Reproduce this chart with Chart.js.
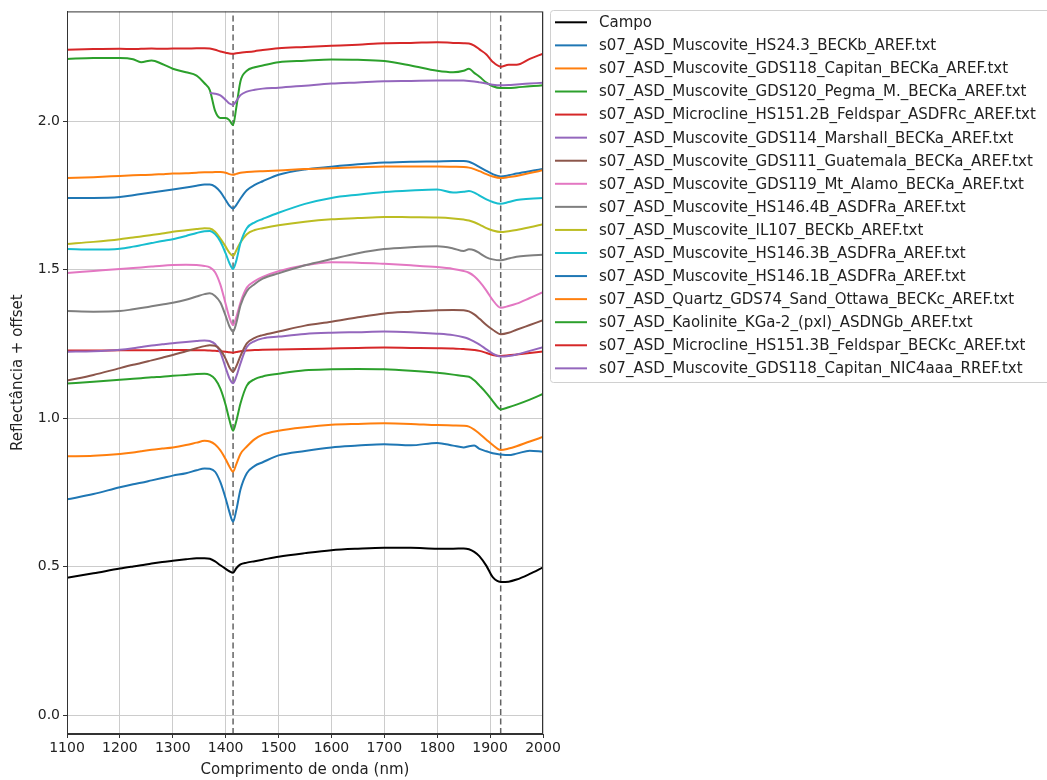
<!DOCTYPE html>
<html>
<head>
<meta charset="utf-8">
<script src="https://cdn.jsdelivr.net/npm/chart.js@4.4.1/dist/chart.umd.min.js"></script>
<style>
  html, body { margin: 0; padding: 0; background: #ffffff; }
  #wrap { width: 1047px; height: 780px; }
</style>
</head>
<body>
<div id="wrap"><canvas id="spectra" width="1047" height="780"></canvas></div>
<script>
// Wavelength grid (nm) shared by every spectrum
const wavelengthNm = [1100, 1150, 1200, 1225, 1240, 1260, 1280, 1300, 1325, 1345, 1360, 1370, 1380, 1390, 1400, 1407, 1414, 1420, 1428, 1440, 1455, 1470, 1500, 1550, 1600, 1650, 1700, 1750, 1800, 1830, 1850, 1860, 1870, 1880, 1893, 1905, 1920, 1935, 1950, 1975, 2000];

// Reflectance + offset for each spectrum
const campo = [0.463, 0.478, 0.494, 0.501, 0.505, 0.511, 0.516, 0.520, 0.525, 0.529, 0.529, 0.527, 0.518, 0.505, 0.493, 0.485, 0.480, 0.495, 0.508, 0.514, 0.519, 0.524, 0.534, 0.546, 0.556, 0.561, 0.564, 0.564, 0.561, 0.561, 0.562, 0.559, 0.550, 0.535, 0.503, 0.465, 0.449, 0.450, 0.457, 0.476, 0.498];
const muscHS243 = [0.727, 0.745, 0.768, 0.778, 0.783, 0.791, 0.799, 0.807, 0.815, 0.825, 0.831, 0.830, 0.820, 0.785, 0.730, 0.685, 0.652, 0.690, 0.760, 0.815, 0.840, 0.852, 0.875, 0.890, 0.902, 0.908, 0.913, 0.909, 0.917, 0.908, 0.902, 0.906, 0.908, 0.897, 0.889, 0.882, 0.878, 0.876, 0.881, 0.891, 0.887];
const muscGDS118 = [0.872, 0.874, 0.880, 0.885, 0.889, 0.894, 0.898, 0.902, 0.910, 0.918, 0.924, 0.922, 0.912, 0.892, 0.862, 0.838, 0.820, 0.845, 0.880, 0.905, 0.930, 0.945, 0.958, 0.970, 0.978, 0.981, 0.983, 0.981, 0.977, 0.976, 0.975, 0.972, 0.962, 0.948, 0.928, 0.910, 0.893, 0.898, 0.906, 0.922, 0.937];
const muscGDS120 = [1.117, 1.123, 1.130, 1.133, 1.135, 1.138, 1.140, 1.143, 1.146, 1.149, 1.150, 1.146, 1.132, 1.100, 1.045, 0.995, 0.958, 0.990, 1.050, 1.110, 1.132, 1.141, 1.150, 1.162, 1.165, 1.166, 1.165, 1.160, 1.153, 1.147, 1.142, 1.140, 1.128, 1.110, 1.085, 1.058, 1.030, 1.037, 1.046, 1.063, 1.082];
const microHS1512B = [1.228, 1.228, 1.229, 1.229, 1.229, 1.229, 1.230, 1.230, 1.230, 1.229, 1.229, 1.228, 1.227, 1.226, 1.224, 1.222, 1.221, 1.223, 1.226, 1.228, 1.230, 1.231, 1.232, 1.233, 1.235, 1.237, 1.238, 1.237, 1.236, 1.235, 1.233, 1.232, 1.230, 1.227, 1.220, 1.213, 1.210, 1.212, 1.215, 1.220, 1.225];
const muscGDS114 = [1.224, 1.226, 1.231, 1.236, 1.240, 1.245, 1.249, 1.253, 1.257, 1.260, 1.262, 1.260, 1.250, 1.222, 1.170, 1.135, 1.118, 1.140, 1.185, 1.240, 1.260, 1.269, 1.275, 1.284, 1.288, 1.290, 1.292, 1.290, 1.285, 1.280, 1.273, 1.267, 1.258, 1.248, 1.232, 1.218, 1.208, 1.210, 1.215, 1.227, 1.239];
const muscGDS111 = [1.127, 1.146, 1.169, 1.180, 1.186, 1.195, 1.204, 1.213, 1.226, 1.236, 1.243, 1.246, 1.244, 1.230, 1.200, 1.172, 1.157, 1.175, 1.210, 1.252, 1.271, 1.280, 1.292, 1.312, 1.325, 1.340, 1.353, 1.359, 1.364, 1.365, 1.364, 1.360, 1.350, 1.335, 1.314, 1.298, 1.283, 1.288, 1.298, 1.314, 1.330];
const muscGDS119 = [1.489, 1.496, 1.503, 1.506, 1.508, 1.511, 1.514, 1.516, 1.517, 1.516, 1.513, 1.508, 1.492, 1.450, 1.385, 1.340, 1.314, 1.340, 1.390, 1.440, 1.462, 1.476, 1.495, 1.515, 1.525, 1.524, 1.520, 1.515, 1.509, 1.503, 1.496, 1.490, 1.478, 1.460, 1.430, 1.398, 1.372, 1.378, 1.386, 1.405, 1.425];
const muscHS1464B = [1.361, 1.359, 1.361, 1.367, 1.371, 1.377, 1.383, 1.389, 1.399, 1.410, 1.418, 1.421, 1.412, 1.390, 1.345, 1.310, 1.292, 1.320, 1.380, 1.428, 1.452, 1.470, 1.488, 1.515, 1.536, 1.556, 1.570, 1.576, 1.579, 1.572, 1.563, 1.569, 1.566, 1.556, 1.542, 1.535, 1.532, 1.538, 1.544, 1.548, 1.551];
const muscIL107 = [1.587, 1.594, 1.603, 1.609, 1.612, 1.617, 1.622, 1.628, 1.633, 1.637, 1.640, 1.639, 1.628, 1.605, 1.578, 1.558, 1.547, 1.565, 1.592, 1.620, 1.634, 1.640, 1.650, 1.662, 1.670, 1.674, 1.678, 1.677, 1.676, 1.673, 1.669, 1.666, 1.660, 1.652, 1.640, 1.632, 1.627, 1.630, 1.634, 1.643, 1.653];
const muscHS1463B = [1.570, 1.568, 1.571, 1.578, 1.583, 1.590, 1.597, 1.603, 1.614, 1.624, 1.630, 1.631, 1.620, 1.595, 1.555, 1.523, 1.503, 1.530, 1.590, 1.640, 1.660, 1.671, 1.692, 1.722, 1.742, 1.753, 1.762, 1.767, 1.770, 1.760, 1.763, 1.765, 1.760, 1.750, 1.737, 1.728, 1.722, 1.728, 1.735, 1.739, 1.742];
const muscHS1461B = [1.742, 1.742, 1.745, 1.751, 1.755, 1.760, 1.765, 1.770, 1.777, 1.783, 1.787, 1.787, 1.780, 1.762, 1.735, 1.716, 1.706, 1.718, 1.740, 1.768, 1.786, 1.798, 1.820, 1.838, 1.847, 1.855, 1.861, 1.864, 1.865, 1.866, 1.866, 1.864, 1.856, 1.846, 1.833, 1.822, 1.814, 1.818, 1.824, 1.832, 1.839];
const quartzGDS74 = [1.809, 1.812, 1.816, 1.818, 1.819, 1.820, 1.822, 1.824, 1.825, 1.827, 1.828, 1.828, 1.829, 1.829, 1.827, 1.822, 1.820, 1.823, 1.827, 1.829, 1.831, 1.832, 1.834, 1.839, 1.842, 1.845, 1.848, 1.848, 1.848, 1.847, 1.846, 1.844, 1.839, 1.832, 1.822, 1.814, 1.809, 1.812, 1.816, 1.826, 1.835];
const kaolKGa2 = [2.210, 2.213, 2.213, 2.209, 2.199, 2.205, 2.193, 2.177, 2.165, 2.154, 2.128, 2.105, 2.035, 2.011, 2.011, 2.004, 1.987, 2.045, 2.135, 2.170, 2.182, 2.188, 2.199, 2.204, 2.208, 2.207, 2.203, 2.188, 2.170, 2.165, 2.170, 2.177, 2.163, 2.150, 2.130, 2.118, 2.112, 2.112, 2.114, 2.118, 2.121];
const microHS1513B = [2.241, 2.243, 2.244, 2.243, 2.244, 2.245, 2.244, 2.245, 2.245, 2.246, 2.246, 2.245, 2.241, 2.235, 2.231, 2.228, 2.227, 2.229, 2.231, 2.233, 2.236, 2.240, 2.246, 2.250, 2.254, 2.258, 2.263, 2.264, 2.266, 2.264, 2.263, 2.262, 2.255, 2.242, 2.225, 2.200, 2.184, 2.190, 2.190, 2.210, 2.228];
const muscGDS118nic = [null, null, null, null, null, null, null, null, null, null, null, 2.095, 2.093, 2.087, 2.072, 2.060, 2.056, 2.068, 2.088, 2.100, 2.106, 2.110, 2.113, 2.120, 2.127, 2.131, 2.135, 2.136, 2.137, 2.137, 2.137, 2.136, 2.134, 2.131, 2.127, 2.123, 2.121, 2.122, 2.124, 2.127, 2.130];

const seriesLabels = [
  'Campo',
  's07_ASD_Muscovite_HS24.3_BECKb_AREF.txt',
  's07_ASD_Muscovite_GDS118_Capitan_BECKa_AREF.txt',
  's07_ASD_Muscovite_GDS120_Pegma_M._BECKa_AREF.txt',
  's07_ASD_Microcline_HS151.2B_Feldspar_ASDFRc_AREF.txt',
  's07_ASD_Muscovite_GDS114_Marshall_BECKa_AREF.txt',
  's07_ASD_Muscovite_GDS111_Guatemala_BECKa_AREF.txt',
  's07_ASD_Muscovite_GDS119_Mt_Alamo_BECKa_AREF.txt',
  's07_ASD_Muscovite_HS146.4B_ASDFRa_AREF.txt',
  's07_ASD_Muscovite_IL107_BECKb_AREF.txt',
  's07_ASD_Muscovite_HS146.3B_ASDFRa_AREF.txt',
  's07_ASD_Muscovite_HS146.1B_ASDFRa_AREF.txt',
  's07_ASD_Quartz_GDS74_Sand_Ottawa_BECKc_AREF.txt',
  's07_ASD_Kaolinite_KGa-2_(pxl)_ASDNGb_AREF.txt',
  's07_ASD_Microcline_HS151.3B_Feldspar_BECKc_AREF.txt',
  's07_ASD_Muscovite_GDS118_Capitan_NIC4aaa_RREF.txt'
];
const seriesValues = [campo, muscHS243, muscGDS118, muscGDS120, microHS1512B, muscGDS114, muscGDS111, muscGDS119, muscHS1464B, muscIL107, muscHS1463B, muscHS1461B, quartzGDS74, kaolKGa2, microHS1513B, muscGDS118nic];

// Absorption features marked with dashed lines (nm)
const featureLines = [1414, 1920];

// Axis ticks
const xTicks = [1100, 1200, 1300, 1400, 1500, 1600, 1700, 1800, 1900, 2000];
const yTicks = [0.0, 0.5, 1.0, 1.5, 2.0];

const palette = ['#000000', '#1f77b4', '#ff7f0e', '#2ca02c', '#d62728', '#9467bd', '#8c564b', '#e377c2', '#7f7f7f', '#bcbd22', '#17becf', '#1f77b4', '#ff7f0e', '#2ca02c', '#d62728', '#9467bd'];

const Y_MIN = -0.063, Y_MAX = 2.37;
const FONT = "'DejaVu Sans', 'Liberation Sans', sans-serif";
const n = seriesValues.length;

const datasets = seriesValues.map((vals, i) => ({
  label: seriesLabels[i],
  data: wavelengthNm.map((w, k) => ({ x: w, y: vals[k] })),
  borderColor: palette[i],
  backgroundColor: palette[i],
  borderWidth: 2,
  pointRadius: 0,
  fill: false,
  spanGaps: false,
  cubicInterpolationMode: 'monotone',
  order: n - i + 2
}));

featureLines.forEach((w) => {
  datasets.push({
    label: '',
    isFeature: true,
    data: [{ x: w, y: Y_MIN }, { x: w, y: Y_MAX }],
    borderColor: 'rgba(60,60,60,0.8)',
    borderWidth: 1.5,
    borderDash: [6, 3.5],
    pointRadius: 0,
    fill: false,
    order: 100
  });
});

// Frame around the plotting area (top and right spines) and the legend box
const framePlugin = {
  id: 'frame',
  afterDraw(chart) {
    const { ctx, chartArea: a } = chart;
    ctx.save();
    ctx.strokeStyle = '#333333';
    ctx.lineWidth = 1;
    ctx.strokeRect(a.left + 0.5, a.top + 0.5, a.right - a.left - 1, a.bottom - a.top - 1);

    // legend
    const bx = 550.5, by = 10.5, bw = 520, bh = 372;
    ctx.beginPath();
    const r = 3;
    ctx.moveTo(bx + r, by);
    ctx.lineTo(bx + bw - r, by);
    ctx.arcTo(bx + bw, by, bx + bw, by + r, r);
    ctx.lineTo(bx + bw, by + bh - r);
    ctx.arcTo(bx + bw, by + bh, bx + bw - r, by + bh, r);
    ctx.lineTo(bx + r, by + bh);
    ctx.arcTo(bx, by + bh, bx, by + bh - r, r);
    ctx.lineTo(bx, by + r);
    ctx.arcTo(bx, by, bx + r, by, r);
    ctx.closePath();
    ctx.fillStyle = 'rgba(255,255,255,0.85)';
    ctx.fill();
    ctx.strokeStyle = '#d0d0d0';
    ctx.stroke();

    ctx.font = '15px ' + FONT;
    ctx.textBaseline = 'middle';
    ctx.textAlign = 'left';
    chart.data.datasets.forEach((ds, i) => {
      if (ds.isFeature) return;
      const y = 22.3 + i * 23.07;
      ctx.strokeStyle = ds.borderColor;
      ctx.lineWidth = 2;
      ctx.beginPath();
      ctx.moveTo(555, y);
      ctx.lineTo(587, y);
      ctx.stroke();
      ctx.fillStyle = '#222222';
      ctx.fillText(ds.label, 599, y + 1);
    });
    ctx.restore();
  }
};

new Chart(document.getElementById('spectra'), {
  type: 'line',
  data: { datasets },
  plugins: [framePlugin],
  options: {
    responsive: false,
    animation: false,
    devicePixelRatio: 1,
    layout: { padding: { top: 5, right: 504, left: 0, bottom: 0 } },
    plugins: {
      legend: { display: false },
      tooltip: { enabled: false }
    },
    scales: {
      x: {
        type: 'linear',
        min: 1100,
        max: 2000,
        afterFit: (s) => { s.height = 46; },
        afterBuildTicks: (s) => { s.ticks = xTicks.map(v => ({ value: v })); },
        ticks: {
          color: '#222222',
          font: { family: FONT, size: 14 },
          padding: 2,
          maxRotation: 0,
          callback: (v) => String(v)
        },
        grid: { color: '#cccccc', lineWidth: 1, tickLength: 4, tickColor: '#333333', tickWidth: 1 },
        border: { color: '#333333', width: 1 },
        title: {
          display: true,
          text: 'Comprimento de onda (nm)',
          color: '#222222',
          font: { family: FONT, size: 15 },
          padding: { top: 0, bottom: 1 }
        }
      },
      y: {
        type: 'linear',
        min: Y_MIN,
        max: Y_MAX,
        afterFit: (s) => { s.width = 67; },
        afterBuildTicks: (s) => { s.ticks = yTicks.map(v => ({ value: v })); },
        ticks: {
          color: '#222222',
          font: { family: FONT, size: 14 },
          padding: 3,
          callback: (v) => Number(v).toFixed(1)
        },
        grid: { color: '#cccccc', lineWidth: 1, tickLength: 4, tickColor: '#333333', tickWidth: 1 },
        border: { color: '#333333', width: 1 },
        title: {
          display: true,
          text: 'Reflectância + offset',
          color: '#222222',
          font: { family: FONT, size: 15 },
          padding: { top: 9, bottom: 0 }
        }
      }
    }
  }
});
</script>
</body>
</html>
